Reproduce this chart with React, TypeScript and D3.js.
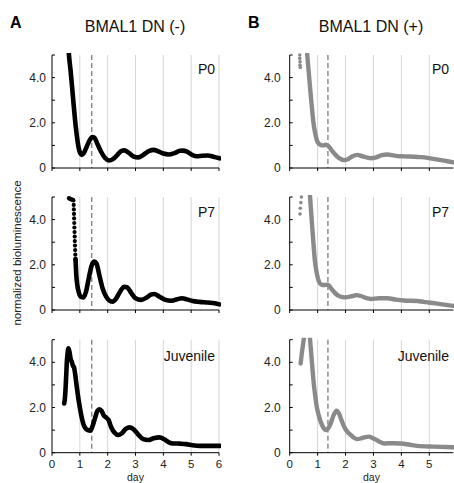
import React from "react";
import * as d3 from "d3";

// ---- data (day, normalized bioluminescence) ----
const a_P0: [number, number][] = [
  [0.55, 6.5], [0.61, 5.0], [0.66, 4.4], [0.71, 3.75], [0.77, 2.9], [0.83, 2.1], [0.89, 1.45], [0.95, 0.94],
  [1.01, 0.66], [1.07, 0.58], [1.15, 0.68], [1.25, 0.95], [1.35, 1.22], [1.45, 1.37], [1.52, 1.35], [1.62, 1.1],
  [1.75, 0.75], [1.9, 0.45], [2.05, 0.33], [2.2, 0.4], [2.35, 0.58], [2.5, 0.76], [2.6, 0.78], [2.75, 0.68],
  [2.95, 0.5], [3.1, 0.47], [3.3, 0.6], [3.5, 0.76], [3.65, 0.8], [3.8, 0.75], [4.0, 0.64], [4.2, 0.6],
  [4.4, 0.66], [4.6, 0.76], [4.7, 0.77], [4.85, 0.72], [5.05, 0.57], [5.2, 0.52], [5.4, 0.54], [5.6, 0.55],
  [5.8, 0.5], [6.02, 0.43],
];
const a_P7_start: [number, number][] = [
  [0.61, 4.95], [0.63, 4.93], [0.66, 4.9], [0.69, 4.9], [0.72, 4.88], [0.75, 4.87], [0.77, 4.85],
  [0.78, 4.65], [0.785, 4.45], [0.79, 4.25], [0.795, 4.05], [0.8, 3.85], [0.805, 3.65], [0.81, 3.45],
  [0.815, 3.25], [0.82, 3.05], [0.826, 2.85], [0.832, 2.65], [0.838, 2.45], [0.845, 2.25],
];
const a_P7: [number, number][] = [
  [0.845, 2.25], [0.87, 1.6], [0.91, 1.1], [0.97, 0.75], [1.05, 0.58], [1.13, 0.56], [1.22, 0.8], [1.32, 1.4], [1.42, 1.95],
  [1.52, 2.14], [1.6, 2.05], [1.7, 1.55], [1.82, 0.95], [1.95, 0.58], [2.08, 0.4], [2.18, 0.37], [2.3, 0.5],
  [2.45, 0.82], [2.6, 1.03], [2.7, 1.0], [2.85, 0.75], [3.0, 0.52], [3.2, 0.45], [3.4, 0.55], [3.55, 0.68],
  [3.67, 0.71], [3.85, 0.6], [4.05, 0.46], [4.3, 0.41], [4.5, 0.48], [4.67, 0.52], [4.85, 0.47], [5.05, 0.4],
  [5.3, 0.36], [5.6, 0.33], [5.85, 0.3], [6.02, 0.25],
];
const a_Juv: [number, number][] = [
  [0.44, 2.18], [0.47, 2.5], [0.49, 2.9], [0.51, 3.4], [0.53, 3.95], [0.56, 4.4], [0.59, 4.62], [0.63, 4.45],
  [0.67, 4.15], [0.71, 4.03], [0.75, 3.85], [0.79, 3.78], [0.83, 3.5], [0.87, 3.1], [0.93, 2.55], [1.0, 2.0],
  [1.06, 1.6], [1.12, 1.3], [1.18, 1.12], [1.24, 1.03], [1.37, 0.97], [1.45, 1.15], [1.55, 1.55], [1.63, 1.85],
  [1.7, 1.92], [1.78, 1.85], [1.86, 1.65], [1.95, 1.55], [2.03, 1.45], [2.12, 1.15], [2.25, 0.88], [2.38, 0.78],
  [2.5, 0.85], [2.65, 1.05], [2.8, 1.12], [2.95, 1.02], [3.1, 0.8], [3.28, 0.6], [3.46, 0.56], [3.65, 0.64],
  [3.86, 0.68], [4.05, 0.58], [4.2, 0.46], [4.36, 0.41], [4.6, 0.4], [4.82, 0.38], [5.05, 0.33], [5.32, 0.3],
  [5.7, 0.3], [6.04, 0.3],
];
const b_P0_start: [number, number][] = [[0.36, 5.0], [0.36, 4.85], [0.37, 4.7], [0.37, 4.55], [0.38, 4.45]];
const b_P0: [number, number][] = [
  [0.58, 6.0], [0.63, 5.0], [0.67, 4.4], [0.72, 3.7], [0.77, 3.0], [0.82, 2.35], [0.87, 1.83], [0.92, 1.5],
  [0.97, 1.24], [1.04, 1.08], [1.11, 1.02], [1.2, 1.0], [1.3, 1.03], [1.38, 0.98], [1.48, 0.82], [1.59, 0.65],
  [1.75, 0.45], [1.95, 0.35], [2.1, 0.4], [2.25, 0.52], [2.42, 0.58], [2.6, 0.52], [2.9, 0.43], [3.1, 0.47],
  [3.3, 0.57], [3.5, 0.6], [3.75, 0.55], [3.98, 0.52], [4.2, 0.51], [4.46, 0.5], [4.7, 0.48], [4.93, 0.45],
  [5.2, 0.39], [5.41, 0.35], [5.65, 0.3], [5.86, 0.25],
];
const b_P7_start: [number, number][] = [[0.37, 4.25], [0.38, 4.5], [0.4, 4.75], [0.42, 5.0]];
const b_P7: [number, number][] = [
  [0.68, 6.0], [0.73, 5.0], [0.77, 4.3], [0.81, 3.6], [0.86, 2.8], [0.9, 2.2], [0.96, 1.7], [1.05, 1.25],
  [1.14, 1.12], [1.23, 1.1], [1.33, 1.12], [1.41, 1.08], [1.5, 0.93], [1.6, 0.78], [1.71, 0.66], [1.85, 0.58],
  [2.0, 0.56], [2.2, 0.6], [2.4, 0.66], [2.55, 0.62], [2.75, 0.52], [2.9, 0.49], [3.2, 0.52], [3.5, 0.52],
  [3.8, 0.46], [4.1, 0.42], [4.57, 0.4], [4.8, 0.36], [5.05, 0.32], [5.4, 0.26], [5.86, 0.18],
];
const b_Juv: [number, number][] = [
  [0.39, 3.95], [0.42, 4.25], [0.45, 4.55], [0.48, 4.8], [0.51, 5.1], [0.55, 5.6], [0.62, 6.0], [0.7, 5.5],
  [0.73, 5.0], [0.77, 4.4], [0.81, 3.8], [0.85, 3.2], [0.91, 2.55], [0.97, 2.03], [1.04, 1.65], [1.11, 1.37],
  [1.2, 1.12], [1.29, 1.0], [1.38, 1.08], [1.47, 1.3], [1.57, 1.65], [1.68, 1.86], [1.77, 1.72], [1.86, 1.42],
  [1.95, 1.15], [2.07, 0.92], [2.19, 0.78], [2.3, 0.66], [2.42, 0.6], [2.6, 0.65], [2.84, 0.71], [3.0, 0.63],
  [3.2, 0.5], [3.38, 0.41], [3.7, 0.42], [3.98, 0.41], [4.3, 0.35], [4.57, 0.3], [5.17, 0.27], [5.86, 0.24],
];

const stageLabels = ["P0", "P7", "Juvenile"];
const columnTitles = ["BMAL1 DN (-)", "BMAL1 DN (+)"];
const columnLetters = ["A", "B"];
const yTicks = [0, 1, 2, 3, 4, 5];
const yTickLabels: Record<number, string> = { 0: "0", 2: "2.0", 4: "4.0" };
const xTicksA = [0, 1, 2, 3, 4, 5, 6];
const xTicksB = [0, 1, 2, 3, 4, 5];
const dashedDay = [1.43, 1.37];

const FONT = "'Liberation Sans', Arial, sans-serif";

type Col = {
  x0: number; x1: number; dmax: number; color: string; width: number; dotR: number;
  series: [number, number][][]; starts: ([number, number][] | null)[];
  xTicks: number[]; labelEnd: number; labelGap: number; titleX: number; letterX: number;
};

const cols: Col[] = [
  { x0: 52, x1: 219, dmax: 6, color: "#000", width: 4.6, dotR: 2.1, series: [a_P0, a_P7, a_Juv], starts: [null, a_P7_start, null],
    xTicks: xTicksA, labelEnd: 215, labelGap: 6, titleX: 135, letterX: 10 },
  { x0: 289.7, x1: 453.3, dmax: 5.86, color: "#8a8a8a", width: 4.4, dotR: 1.8, series: [b_P0, b_P7, b_Juv], starts: [b_P0_start, b_P7_start, null],
    xTicks: xTicksB, labelEnd: 449, labelGap: 9, titleX: 371, letterX: 248 },
];
const bottoms = [168, 310, 452.7];
const H = 113;

function Panel({ col, ci, ri }: { col: Col; ci: number; ri: number }) {
  const bottom = bottoms[ri];
  const top = bottom - H;
  const x = d3.scaleLinear().domain([0, col.dmax]).range([col.x0, col.x1]);
  const y = d3.scaleLinear().domain([0, 5]).range([bottom, top]);
  const line = d3.line<[number, number]>().x((d) => x(d[0])).y((d) => y(d[1])).curve(d3.curveMonotoneX);
  const clipId = `clip-${ci}-${ri}`;
  const gridDays = col.xTicks.filter((d) => d > 0);
  const start = col.starts[ri];
  return (
    <g>
      <defs>
        <clipPath id={clipId}>
          <rect x={col.x0} y={top - 2} width={col.x1 - col.x0 + 2} height={H + 6} />
        </clipPath>
      </defs>
      {gridDays.map((d) => (
        <line key={d} x1={x(d)} x2={x(d)} y1={top} y2={bottom} stroke="#d6d6d6" strokeWidth={1} />
      ))}
      <line x1={x(dashedDay[ci])} x2={x(dashedDay[ci])} y1={top} y2={bottom} stroke="#555" strokeWidth={1} strokeDasharray="5,3" />
      <g clipPath={`url(#${clipId})`}>
        <path d={line(col.series[ri]) || ""}
          fill="none" stroke={col.color} strokeWidth={col.width} strokeLinejoin="round" strokeLinecap="round" />
        {start && start.map((p, i) => (
          <circle key={i} cx={x(p[0])} cy={y(p[1])} r={col.dotR} fill={col.color} />
        ))}
      </g>
      {/* axes */}
      <line x1={col.x0} x2={col.x0} y1={top} y2={bottom} stroke="#000" strokeWidth={1} />
      <line x1={col.x0} x2={col.x1} y1={bottom} y2={bottom} stroke="#000" strokeWidth={1} />
      {yTicks.map((t) => (
        <line key={t} x1={col.x0} x2={col.x0 + 3} y1={y(t)} y2={y(t)} stroke="#000" strokeWidth={1} />
      ))}
      {yTicks.filter((t) => yTickLabels[t] !== undefined).map((t) => (
        <text key={t} x={col.x0 - col.labelGap} y={y(t) + 4} textAnchor="end" fontSize={12} fontFamily={FONT} fill="#222">
          {yTickLabels[t]}
        </text>
      ))}
      {col.xTicks.map((t) => (
        <line key={t} x1={x(t)} x2={x(t)} y1={bottom} y2={bottom + 3} stroke="#000" strokeWidth={1} />
      ))}
      {ri === 2 && col.xTicks.map((t) => (
        <text key={t} x={x(t)} y={467.5} textAnchor="middle" fontSize={11.5} fontFamily={FONT} fill="#222">{t}</text>
      ))}
      <text x={col.labelEnd} y={ri === 0 ? 74 : ri === 1 ? 217 : 361} textAnchor="end" fontSize={14} fontFamily={FONT} fill="#111">
        {stageLabels[ri]}
      </text>
    </g>
  );
}

export default function App() {
  return (
    <div style={{ position: "absolute", left: 0, top: 0 }}>
      <svg width={454} height={483} style={{ display: "block", background: "#fff" }}>
        {cols.map((col, ci) => (
          <g key={ci}>
            <text x={col.letterX} y={28} fontSize={16} fontWeight="bold" fontFamily={FONT} fill="#000">{columnLetters[ci]}</text>
            <text x={col.titleX} y={32} textAnchor="middle" fontSize={16} fontFamily={FONT} fill="#111">{columnTitles[ci]}</text>
            {[0, 1, 2].map((ri) => <Panel key={ri} col={col} ci={ci} ri={ri} />)}
            <text x={(col.x0 + col.x1) / 2} y={480.5} textAnchor="middle" fontSize={10.5} fontFamily={FONT} fill="#222">day</text>
          </g>
        ))}
        <text transform="translate(21,253) rotate(-90)" textAnchor="middle" fontSize={11.5} fontFamily={FONT} fill="#222">
          normalized bioluminescence
        </text>
      </svg>
    </div>
  );
}
